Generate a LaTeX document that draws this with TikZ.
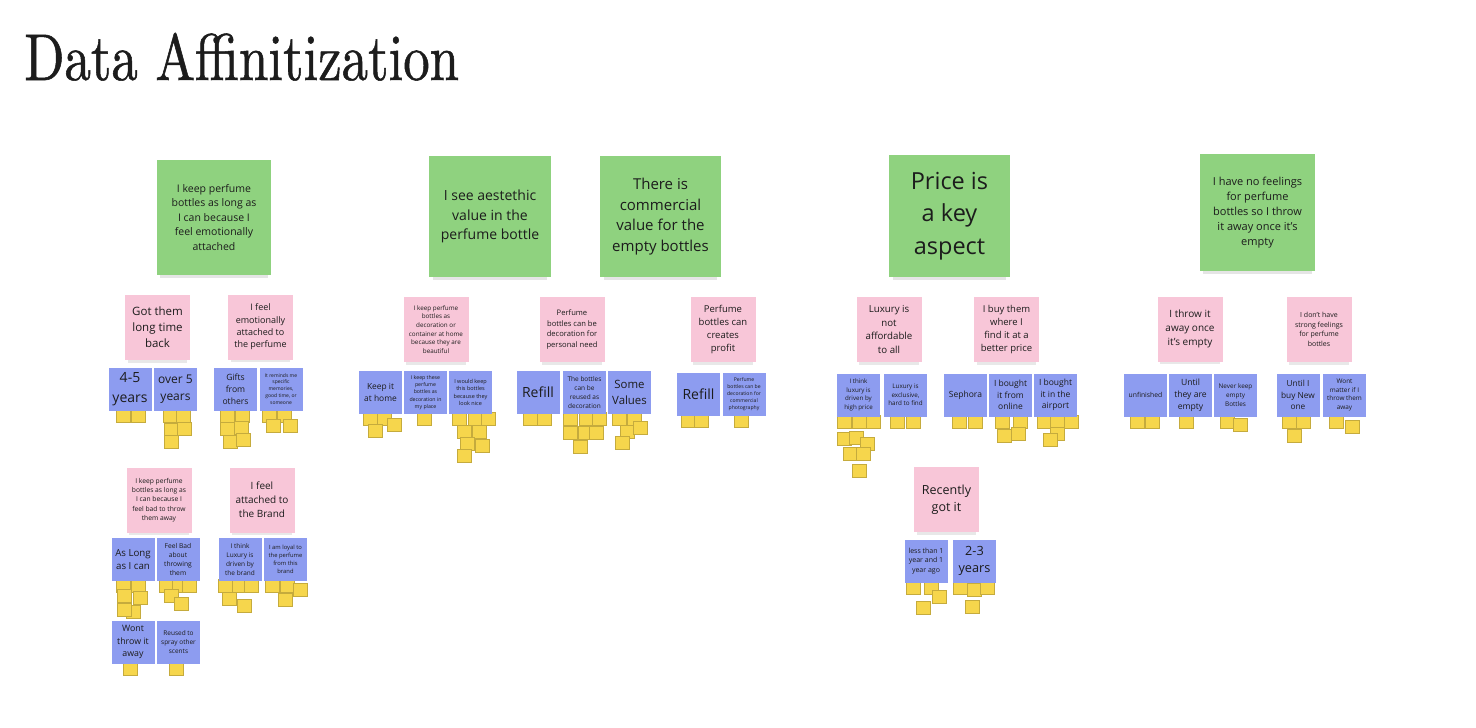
\documentclass[tikz,border=0pt]{standalone}
\usepackage{fontspec}
\setsansfont{Open Sans}
\newfontfamily\titlefont[FakeStretch=0.8,FakeBold=0.8]{lmroman10-regular.otf}
\usepackage{tikz}
\usetikzlibrary{calc,backgrounds,shadows}
\definecolor{stickgreen}{HTML}{8FD27F}
\definecolor{stickpink}{HTML}{F8C6D8}
\definecolor{stickblue}{HTML}{8D9CF0}
\definecolor{stickyellow}{HTML}{F6D64C}
\definecolor{ink}{HTML}{1C1C1C}
\newcommand\fs[1]{\fontsize{#1}{\fpeval{1.38*#1}}\selectfont}
\tikzset{note/.style={align=center,text=ink,inner sep=1pt},sz/.style={font=\sffamily\fs{#1}},
  bignote/.style={note,fill=stickgreen,drop shadow={opacity=.2,shadow xshift=0pt,shadow yshift=-7pt,shadow scale=.94}},
  midnote/.style={note,fill=stickpink,minimum width=65pt,minimum height=65pt,drop shadow={opacity=.18,shadow xshift=0pt,shadow yshift=-6pt,shadow scale=.92}},
  smallnote/.style={note,fill=stickblue,minimum width=43pt,minimum height=43pt},
  yel/.style={fill=stickyellow,draw=stickyellow!80!black,line width=.3pt,minimum width=14pt,minimum height=13pt,inner sep=0pt,anchor=north west}}

\begin{document}
\begin{tikzpicture}[x=1pt,y=-1pt]
\useasboundingbox (0,0) rectangle (1476,728);
\node[anchor=base west,inner sep=0pt,text=ink,font=\titlefont\fontsize{66}{70}\selectfont] (title) at (24,80) {Data Affinitization};
\foreach \x/\y/\w/\h/\id/\sz/\txt in {214/217.5/114/115/keep/10.5/{I keep perfume\\bottles as long as\\I can because I\\feel emotionally\\attached},490/216.5/122/121/aesth/14/{I see aestethic\\value in the\\perfume bottle},660.5/216.5/121/121/commerce/15/{There is\\commercial\\value for the\\empty bottles},949.5/216/121/122/price/23.5/{Price is\\a key\\aspect},1257.5/212.5/115/117/nofeel/11/{I have no feelings\\for perfume\\bottles so I throw\\it away once it's\\empty}}
  \node[bignote,sz=\sz,minimum width=\w pt,minimum height=\h pt] (\id) at (\x,\y) {\txt};
\foreach \x/\y/\id/\sz/\txt in {157.5/327.5/longback/11.5/{Got them\\long time\\back},260.5/327/emoattach/9/{I feel\\emotionally\\attached to\\the perfume},159/500/feelbad/6.7/{I keep perfume\\bottles as long as\\I can because I\\feel bad to throw\\them away},262/500/brand/10/{I feel\\attached to\\the Brand},436/329.5/decor/6.3/{I keep perfume\\bottles as\\decoration or\\container at home\\because they are\\beautiful},572/329.5/persneed/7.6/{Perfume\\bottles can be\\decoration for\\personal need},723/329.5/profit/9.5/{Perfume\\bottles can\\creates\\profit},889/329.5/notafford/9.7/{Luxury is\\not\\affordable\\to all},1006.5/329.5/betterprice/9.5/{I buy them\\where I\\find it at a\\better price},946.5/499.5/recent/12.5/{Recently\\got it},1190/329/throwaway/10/{I throw it\\away once\\it's empty},1319/329.5/nostrong/7/{I don't have\\strong feelings\\for perfume\\bottles}}
  \node[midnote,sz=\sz] (\id) at (\x,\y) {\txt};
\foreach \x/\y/\id/\sz/\txt in {130/389/yrsfour/14/{4-5\\years},175.5/389/yrsover/12/{over 5\\years},235.5/389/gifts/8.6/{Gifts\\from\\others},281/389/memories/5/{It reminds me\\specific\\memories,\\good time, or\\someone},133/559.5/aslong/9.7/{As Long\\as I can},178/559.5/feelbadabout/6.7/{Feel Bad\\about\\throwing\\them},240/559.5/thinkbrand/6.5/{I think\\Luxury is\\driven by\\the brand},285.5/559.5/loyal/5.8/{I am loyal to\\the perfume\\from this\\brand},133/642/wontthrow/8.8/{Wont\\throw it\\away},178.5/642/reused/6.5/{Reused to\\spray other\\scents},380.5/392.5/athome/8.4/{Keep it\\at home},425.5/392.5/inmyplace/5.2/{I keep these\\perfume\\bottles as\\decoration in\\my place},470.5/392.5/looknice/5.5/{I would keep\\this bottles\\because they\\look nice},538/392.5/refilla/14/{Refill},584.5/392.5/reusedeco/6.5/{The bottles\\can be\\reused as\\decoration},629.5/392.5/values/11.4/{Some\\Values},698.5/394.5/refillb/14/{Refill},744/394.5/photo/5.1/{Perfume\\bottles can be\\decoration for\\commercial\\photography},858.5/395/highprice/6.2/{I think\\luxury is\\driven by\\high price},905.5/395/exclusive/6.3/{Luxury is\\exclusive,\\hard to find},965.5/395/sephora/8.5/{Sephora},1010.5/395/online/8.5/{I bought\\it from\\online},1055.5/395/airport/8.5/{I bought\\it in the\\airport},926/561/lessyear/7/{less than 1\\year and 1\\year ago},974.5/561/yrstwo/12.7/{2-3\\years},1145.5/395/unfinished/6.8/{unfinished},1190.5/395/untilempty/8.6/{Until\\they are\\empty},1235.5/395/neverkeep/6.4/{Never keep\\empty\\Bottles},1298/395/untilnew/8.3/{Until I\\buy New\\one},1344.5/395/wontmatter/6.4/{Wont\\matter if I\\throw them\\away}}
  \node[smallnote,sz=\sz] (\id) at (\x,\y) {\txt};
\begin{scope}[on background layer]
\fill[white] (0,0) rectangle (1476,728);
\foreach \n/\dx/\dy in {yrsfour/8/0,yrsfour/23/0,yrsover/9/0,yrsover/22/0,yrsover/10/14,yrsover/23/13,yrsover/10/26,gifts/6/0,gifts/21/0,gifts/6/13,gifts/20/12,gifts/9/26,gifts/22/24,memories/3/0,memories/18/0,memories/7/10,memories/24/10,aslong/5/0,aslong/20/0,aslong/6/10,aslong/22/12,aslong/15/26,aslong/6/24,feelbadabout/3/0,feelbadabout/16/0,feelbadabout/26/0,feelbadabout/8/10,feelbadabout/18/18,thinkbrand/0/0,thinkbrand/14/0,thinkbrand/26/0,thinkbrand/4/13,thinkbrand/19/20,loyal/1/0,loyal/16/0,loyal/14/14,loyal/29/4,wontthrow/12/0,reused/12/0,athome/4/0,athome/18/0,athome/9/12,athome/28/6,inmyplace/13/0,looknice/3/0,looknice/19/0,looknice/32/0,looknice/8/13,looknice/23/13,looknice/11/25,looknice/26/27,looknice/8/37,refilla/7/0,refilla/21/0,reusedeco/0/0,reusedeco/16/0,reusedeco/29/0,reusedeco/0/14,reusedeco/15/14,reusedeco/26/14,reusedeco/10/28,values/4/0,values/19/0,values/12/13,values/25/9,values/7/24,refillb/4/0,refillb/17/0,photo/12/0,highprice/0/0,highprice/15/0,highprice/29/0,highprice/0/17,highprice/12/16,highprice/23/22,highprice/6/32,highprice/19/32,highprice/15/49,exclusive/6/0,exclusive/22/0,sephora/8/0,sephora/24/0,online/6/0,online/24/0,online/8/14,online/22/12,airport/3/0,airport/16/0,airport/30/0,airport/16/12,airport/9/18,lessyear/2/0,lessyear/20/0,lessyear/28/9,lessyear/12/20,yrstwo/0/0,yrstwo/14/2,yrstwo/27/0,yrstwo/12/19,unfinished/6/0,unfinished/21/0,untilempty/10/0,neverkeep/6/0,neverkeep/19/3,untilnew/6/0,untilnew/20/0,untilnew/11/14,wontmatter/6/0,wontmatter/22/5}
  \node[yel] (y-\n-\dx-\dy) at ($(\n.south west)+(\dx,\dy-2)$) {};
\end{scope}
\end{tikzpicture}
\end{document}
